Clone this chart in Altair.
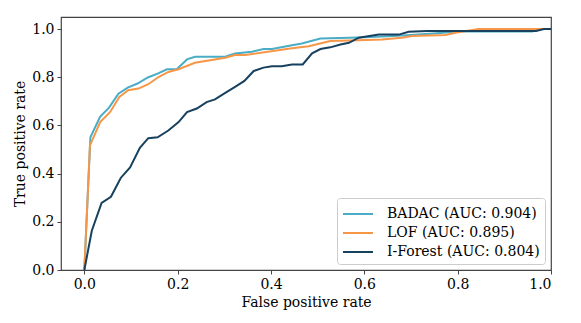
import altair as alt
import pandas as pd

badac_x = [0, 0.013, 0.034, 0.053, 0.073, 0.093, 0.114, 0.136, 0.157, 0.177, 0.198, 0.220, 0.237, 0.302, 0.323, 0.359, 0.384, 0.402, 0.445, 0.466, 0.506, 0.588, 0.65, 0.70, 0.77, 0.80, 0.87, 0.96, 0.975, 1.0]
badac_y = [0, 0.551, 0.637, 0.674, 0.732, 0.757, 0.774, 0.799, 0.815, 0.833, 0.833, 0.874, 0.885, 0.885, 0.899, 0.906, 0.917, 0.917, 0.933, 0.940, 0.961, 0.965, 0.970, 0.975, 0.985, 0.990, 0.990, 0.990, 1.0, 1.0]

lof_x = [0, 0.012, 0.034, 0.055, 0.075, 0.094, 0.116, 0.137, 0.159, 0.180, 0.202, 0.237, 0.302, 0.323, 0.345, 0.445, 0.481, 0.527, 0.588, 0.638, 0.680, 0.702, 0.774, 0.795, 0.845, 1.0]
lof_y = [0, 0.517, 0.614, 0.655, 0.718, 0.746, 0.753, 0.771, 0.801, 0.822, 0.833, 0.860, 0.881, 0.892, 0.892, 0.920, 0.929, 0.950, 0.953, 0.957, 0.964, 0.971, 0.975, 0.985, 1.0, 1.0]

if_x = [0, 0.016, 0.037, 0.057, 0.078, 0.098, 0.119, 0.137, 0.157, 0.180, 0.202, 0.220, 0.241, 0.262, 0.280, 0.302, 0.323, 0.343, 0.363, 0.384, 0.402, 0.423, 0.445, 0.468, 0.488, 0.506, 0.527, 0.549, 0.567, 0.588, 0.631, 0.674, 0.695, 0.735, 0.968, 0.985, 1.0]
if_y = [0, 0.163, 0.278, 0.304, 0.382, 0.426, 0.507, 0.547, 0.551, 0.579, 0.614, 0.655, 0.670, 0.697, 0.708, 0.735, 0.760, 0.785, 0.826, 0.840, 0.846, 0.846, 0.853, 0.853, 0.899, 0.917, 0.924, 0.936, 0.943, 0.964, 0.977, 0.977, 0.989, 0.992, 0.992, 1.0, 1.0]

labels = ["BADAC (AUC: 0.904)", "LOF (AUC: 0.895)", "I-Forest (AUC: 0.804)"]
colors = ["#4bacc6", "#f79646", "#17415e"]

rows = []
for lab, xs, ys in zip(labels, [badac_x, lof_x, if_x], [badac_y, lof_y, if_y]):
    for i, (a, b) in enumerate(zip(xs, ys)):
        rows.append({"model": lab, "fpr": a, "tpr": b, "i": i})
df = pd.DataFrame(rows)

font = "DejaVu Serif"
ticks = [0, 0.2, 0.4, 0.6, 0.8, 1.0]

chart = alt.Chart(df).mark_line(strokeWidth=2).encode(
    x=alt.X("fpr:Q", title="False positive rate",
            scale=alt.Scale(domain=[-0.05, 1.0], nice=False, zero=False),
            axis=alt.Axis(values=ticks, format=".1f", grid=False,
                          labelFont=font, titleFont=font, labelFontSize=14, titleFontSize=14)),
    y=alt.Y("tpr:Q", title="True positive rate",
            scale=alt.Scale(domain=[0, 1.05], nice=False),
            axis=alt.Axis(values=ticks, format=".1f", grid=False,
                          labelFont=font, titleFont=font, labelFontSize=14, titleFontSize=14)),
    color=alt.Color("model:N", sort=labels,
                    scale=alt.Scale(domain=labels, range=colors),
                    legend=alt.Legend(title=None, orient="bottom-right", offset=6,
                                      symbolType="M-1,0L2,0", symbolStrokeWidth=2, symbolSize=400,
                                      labelFont=font, labelFontSize=14, labelColor="black",
                                      strokeColor="#cccccc", fillColor="white", cornerRadius=3,
                                      padding=5, rowPadding=1, labelOffset=23)),
    order="i:Q",
).properties(width=490, height=253, padding={"left": 5, "top": 9, "right": 5, "bottom": 5}).configure(
    font=font
).configure_axis(
    labelColor="black", titleColor="black", titleFontWeight="normal",
    domain=False, tickColor="#444444", tickSize=4, labelPadding=3, titlePadding=4,
).configure_view(stroke="#444444", strokeWidth=1.2)

chart.save("out.html", embed_options={"renderer": "svg", "actions": False})
